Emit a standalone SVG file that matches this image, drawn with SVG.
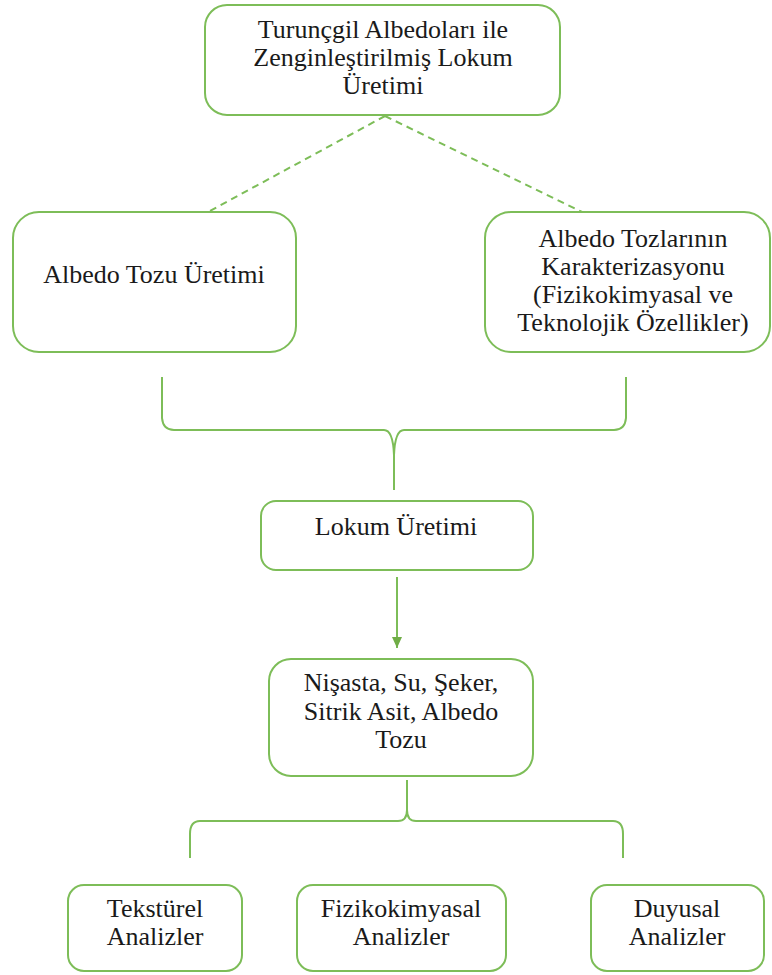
<svg xmlns="http://www.w3.org/2000/svg" width="772" height="975" viewBox="0 0 772 975">
<style>
.box{fill:#fff;stroke:#7dbd58;stroke-width:2}
.t{font-family:'Liberation Serif','DejaVu Serif',serif;font-size:26px;fill:#1a1a1a;text-anchor:middle}
.c{fill:none;stroke:#7dbd58;stroke-width:2}
.d{fill:none;stroke:#7dbd58;stroke-width:2;stroke-dasharray:7 5}
</style>
<defs>
<marker id="ah" markerWidth="12" markerHeight="10" refX="11" refY="5" orient="auto" markerUnits="userSpaceOnUse">
<path d="M0,0 L11,5 L0,10 Z" fill="#70ad47"/>
</marker>
</defs>
<rect width="772" height="975" fill="#fff"/>
<g id="connectors">
<path class="d" d="M385,116 L208,212"/>
<path class="d" d="M385,116 L582,212"/>
<path class="c" d="M162,377 L162,418 Q163,430 174,430 L384,430 Q393,430 394,455 L394,490"/>
<path class="c" d="M626,377 L626,418 Q625,430 614,430 L404,430 Q395,430 394,455"/>
<path class="c" d="M397,577 L397,648" marker-end="url(#ah)"/>
<path class="c" d="M407,780 L407,810 Q407,821 398,821 L200,821 Q190,821 190,834 L190,858"/>
<path class="c" d="M407,810 Q407,821 416,821 L613,821 Q623,821 623,834 L623,858"/>
</g>
<g id="n1">
<rect class="box" x="205" y="5" width="355" height="110" rx="22"/>
<text class="t" font-family="Liberation Serif, DejaVu Serif, serif" x="383" y="38">Turunçgil Albedoları ile</text>
<text class="t" font-family="Liberation Serif, DejaVu Serif, serif" x="383" y="66">Zenginleştirilmiş Lokum</text>
<text class="t" font-family="Liberation Serif, DejaVu Serif, serif" x="383" y="94">Üretimi</text>
</g>
<g id="n2">
<rect class="box" x="13" y="212" width="283" height="140" rx="26"/>
<text class="t" x="154" y="283">Albedo Tozu Üretimi</text>
</g>
<g id="n3">
<rect class="box" x="485" y="212" width="285" height="140" rx="26"/>
<text class="t" x="633" y="247">Albedo Tozlarının</text>
<text class="t" x="633" y="275">Karakterizasyonu</text>
<text class="t" x="633" y="303">(Fizikokimyasal ve</text>
<text class="t" x="633" y="331">Teknolojik Özellikler)</text>
</g>
<g id="n4">
<rect class="box" x="261" y="501" width="272" height="69" rx="15"/>
<text class="t" x="396" y="535">Lokum Üretimi</text>
</g>
<g id="n5">
<rect class="box" x="269" y="659" width="264" height="117" rx="22"/>
<text class="t" x="401" y="691">Nişasta, Su, Şeker,</text>
<text class="t" x="401" y="720">Sitrik Asit, Albedo</text>
<text class="t" x="401" y="748">Tozu</text>
</g>
<g id="n6">
<rect class="box" x="68" y="885" width="174" height="86" rx="16"/>
<text class="t" x="155" y="917">Tekstürel</text>
<text class="t" x="155" y="945">Analizler</text>
</g>
<g id="n7">
<rect class="box" x="297" y="885" width="209" height="86" rx="16"/>
<text class="t" x="401" y="917">Fizikokimyasal</text>
<text class="t" x="401" y="945">Analizler</text>
</g>
<g id="n8">
<rect class="box" x="591" y="885" width="173" height="86" rx="16"/>
<text class="t" x="677" y="917">Duyusal</text>
<text class="t" x="677" y="945">Analizler</text>
</g>
</svg>
